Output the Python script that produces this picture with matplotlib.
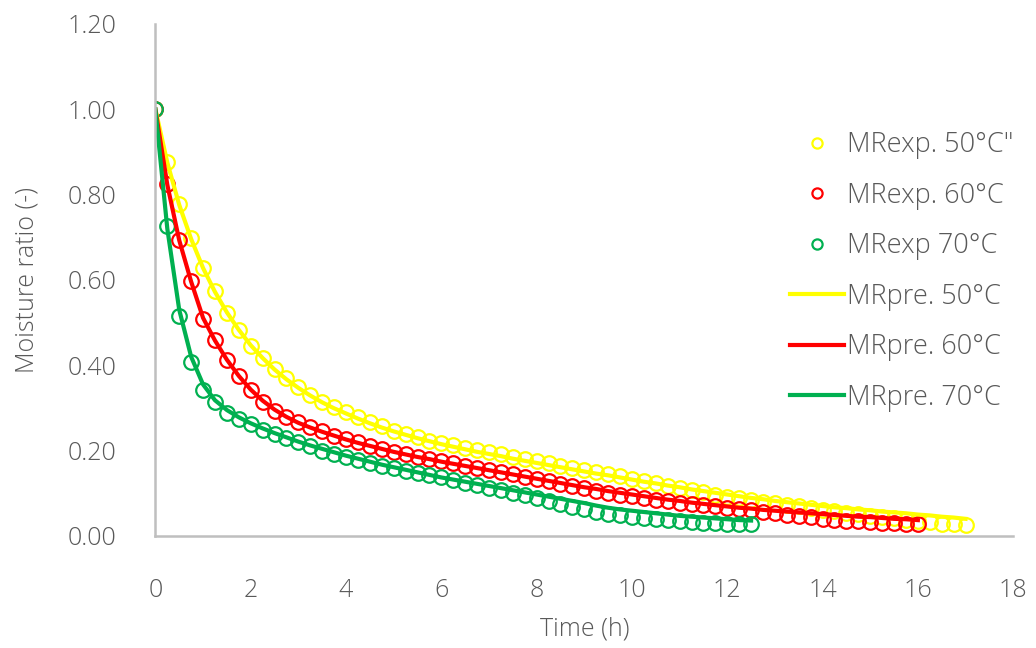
import matplotlib
matplotlib.use("Agg")
import matplotlib.pyplot as plt
import numpy as np

plt.rcParams["font.family"] = ["Open Sans", "DejaVu Sans"]
plt.rcParams["font.weight"] = "light"
plt.rcParams["axes.labelweight"] = "light"

# sampling times (h), every 15 min
t50 = np.arange(0, 17.001, 0.25)
t60 = np.arange(0, 16.001, 0.25)
t70 = np.arange(0, 12.501, 0.25)

# experimental moisture ratio
mr_exp_50 = [
    1.000, 0.877, 0.777, 0.699, 0.627, 0.574, 0.523, 0.482, 0.446, 0.418,
    0.392, 0.369, 0.350, 0.331, 0.314, 0.302, 0.291, 0.278, 0.266, 0.257,
    0.247, 0.238, 0.231, 0.223, 0.217, 0.212, 0.207, 0.202, 0.196, 0.191,
    0.186, 0.181, 0.175, 0.170, 0.165, 0.160, 0.155, 0.150, 0.145, 0.140,
    0.134, 0.129, 0.124, 0.118, 0.113, 0.108, 0.102, 0.097, 0.092, 0.088,
    0.084, 0.080, 0.076, 0.073, 0.069, 0.065, 0.061, 0.058, 0.054, 0.051,
    0.047, 0.044, 0.041, 0.038, 0.035, 0.032, 0.029, 0.027, 0.025,
]
mr_exp_60 = [
    1.000, 0.825, 0.694, 0.598, 0.508, 0.459, 0.412, 0.374, 0.341, 0.314,
    0.293, 0.278, 0.266, 0.256, 0.245, 0.234, 0.226, 0.219, 0.210, 0.203,
    0.196, 0.191, 0.186, 0.181, 0.176, 0.171, 0.165, 0.160, 0.155, 0.149,
    0.144, 0.139, 0.133, 0.128, 0.122, 0.117, 0.112, 0.106, 0.101, 0.097,
    0.093, 0.089, 0.085, 0.081, 0.078, 0.075, 0.072, 0.069, 0.066, 0.063,
    0.060, 0.057, 0.053, 0.048, 0.046, 0.044, 0.040, 0.038, 0.036, 0.034,
    0.033, 0.031, 0.030, 0.028, 0.027,
]
mr_exp_70 = [
    1.000, 0.727, 0.515, 0.407, 0.341, 0.313, 0.287, 0.273, 0.262, 0.249,
    0.240, 0.230, 0.219, 0.210, 0.200, 0.193, 0.186, 0.179, 0.172, 0.163,
    0.159, 0.151, 0.148, 0.143, 0.137, 0.131, 0.125, 0.119, 0.113, 0.107,
    0.101, 0.095, 0.089, 0.082, 0.075, 0.068, 0.062, 0.057, 0.052, 0.048,
    0.045, 0.042, 0.039, 0.037, 0.035, 0.033, 0.031, 0.030, 0.029, 0.028,
    0.027,
]

# predicted moisture ratio (model)
mr_pre_50 = [
    1.000, 0.875, 0.776, 0.696, 0.628, 0.572, 0.524, 0.483, 0.447, 0.417,
    0.390, 0.367, 0.347, 0.329, 0.313, 0.299, 0.287, 0.275, 0.264, 0.254,
    0.245, 0.237, 0.229, 0.222, 0.215, 0.209, 0.203, 0.197, 0.192, 0.187,
    0.181, 0.176, 0.171, 0.166, 0.161, 0.156, 0.151, 0.146, 0.142, 0.137,
    0.132, 0.127, 0.123, 0.118, 0.114, 0.109, 0.105, 0.101, 0.097, 0.093,
    0.089, 0.086, 0.082, 0.079, 0.076, 0.073, 0.070, 0.067, 0.065, 0.062,
    0.060, 0.057, 0.055, 0.053, 0.050, 0.048, 0.045, 0.043, 0.040,
]
mr_pre_60 = [
    1.000, 0.823, 0.693, 0.596, 0.511, 0.458, 0.413, 0.375, 0.343, 0.317,
    0.296, 0.279, 0.265, 0.254, 0.244, 0.235, 0.226, 0.218, 0.211, 0.204,
    0.197, 0.191, 0.185, 0.180, 0.174, 0.169, 0.164, 0.159, 0.154, 0.149,
    0.144, 0.139, 0.134, 0.129, 0.124, 0.119, 0.114, 0.110, 0.105, 0.101,
    0.097, 0.093, 0.089, 0.085, 0.082, 0.078, 0.075, 0.072, 0.069, 0.066,
    0.064, 0.061, 0.059, 0.057, 0.055, 0.053, 0.051, 0.049, 0.047, 0.045,
    0.044, 0.042, 0.040, 0.039, 0.037,
]
mr_pre_70 = [
    1.000, 0.720, 0.530, 0.420, 0.355, 0.318, 0.295, 0.278, 0.264, 0.252,
    0.241, 0.231, 0.221, 0.212, 0.204, 0.196, 0.188, 0.181, 0.174, 0.167,
    0.161, 0.155, 0.149, 0.143, 0.137, 0.132, 0.127, 0.122, 0.117, 0.112,
    0.107, 0.102, 0.097, 0.092, 0.087, 0.082, 0.077, 0.071, 0.066, 0.062,
    0.059, 0.056, 0.053, 0.050, 0.047, 0.045, 0.043, 0.041, 0.039, 0.037,
    0.036,
]

YELLOW, RED, GREEN = "#FFFF00", "#FF0000", "#00B050"
GREY_TXT, GREY_AX = "#595959", "#BFBFBF"

fig = plt.figure(figsize=(10.36, 6.48), dpi=100)
ax = fig.add_axes([0.150, 0.173, 0.828, 0.790])

mk = dict(ls="none", marker="o", ms=10.5, mfc="none", mew=1.6)
ax.plot(t50, mr_exp_50, color=YELLOW, label='MRexp. 50°C"', **mk)
ax.plot(t60, mr_exp_60, color=RED, label="MRexp. 60°C", **mk)
ax.plot(t70, mr_exp_70, color=GREEN, label="MRexp 70°C", **mk)
ax.plot(t50, mr_pre_50, color=YELLOW, lw=3, label="MRpre. 50°C")
ax.plot(t60, mr_pre_60, color=RED, lw=3, label="MRpre. 60°C")
ax.plot(t70, mr_pre_70, color=GREEN, lw=3, label="MRpre. 70°C")

ax.set_xlim(0, 18)
ax.set_ylim(0, 1.2)
ax.set_xticks(np.arange(0, 19, 2))
ax.set_yticks(np.arange(0, 1.21, 0.2))
ax.yaxis.set_major_formatter(matplotlib.ticker.FormatStrFormatter("%.2f"))
ax.tick_params(length=0, labelsize=18, labelcolor=GREY_TXT)
ax.tick_params(axis="x", pad=30)
ax.tick_params(axis="y", pad=28)
for s in ["top", "right"]:
    ax.spines[s].set_visible(False)
for s in ["left", "bottom"]:
    ax.spines[s].set_color(GREY_AX)
    ax.spines[s].set_linewidth(1.8)
ax.set_xlabel("Time (h)", fontsize=18, color=GREY_TXT, fontweight="light")
ax.set_ylabel("Moisture ratio (-)", fontsize=18, color=GREY_TXT, fontweight="light")
ax.xaxis.set_label_coords(0.5, -0.158)
ax.yaxis.set_label_coords(-0.135, 0.5)

leg = ax.legend(loc="upper left", bbox_to_anchor=(0.739, 0.835), bbox_transform=fig.transFigure,
                frameon=False, fontsize=19.5, markerscale=0.7, handlelength=2.0,
                handletextpad=0.1, labelspacing=0.83)
for txt in leg.get_texts():
    txt.set_color(GREY_TXT)

fig.savefig("out.png", dpi=100)
